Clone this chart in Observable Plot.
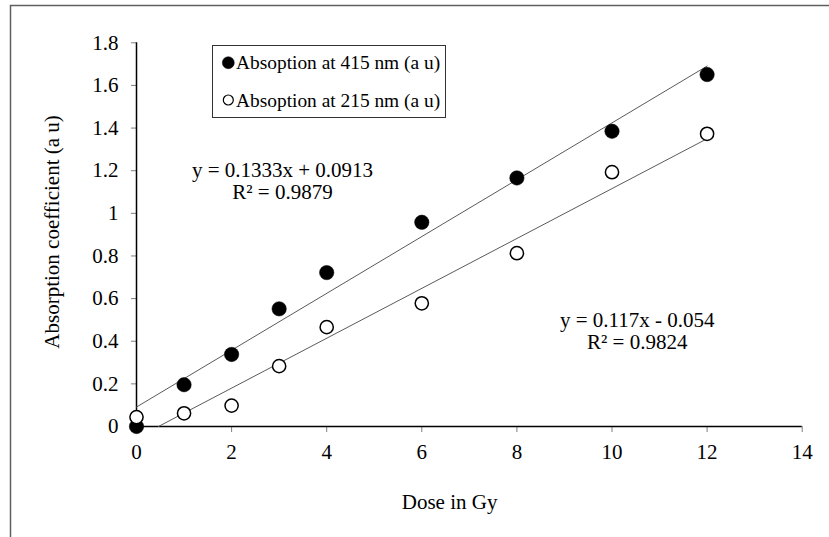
<!DOCTYPE html>
<html>
<head>
<meta charset="utf-8">
<script src="https://cdn.jsdelivr.net/npm/d3@7"></script>
<script src="https://cdn.jsdelivr.net/npm/@observablehq/plot@0.6"></script>
<style>
  html, body { margin: 0; padding: 0; background: white; overflow: hidden; }
  #chart { width: 829px; height: 537px; }
</style>
</head>
<body>
<div id="chart"></div>
<script>
// ---- data ----
const doses = [0, 1, 2, 3, 4, 6, 8, 10, 12];
const abs415 = [0, 0.196, 0.338, 0.552, 0.722, 0.958, 1.166, 1.385, 1.651];
const abs215 = [0.044, 0.062, 0.098, 0.283, 0.466, 0.578, 0.813, 1.193, 1.373];

const seriesNames = ["Absoption at 415 nm (a u)", "Absoption at 215 nm (a u)"];
const slopes = [0.1333, 0.117];
const intercepts = [0.0913, -0.054];
const trendStart = [0, 0.054 / 0.117];   // 215 nm trendline starts where it meets y = 0
const trendEnd = [12, 12];

const eqLabels = ["y = 0.1333x + 0.0913\nR² = 0.9879", "y = 0.117x - 0.054\nR² = 0.9824"];
const eqX = [3.07, 10.53];
const eqY = [1.153, 0.448];

const xTicks = [0, 2, 4, 6, 8, 10, 12, 14];
const yTicks = [0, 0.2, 0.4, 0.6, 0.8, 1, 1.2, 1.4, 1.6, 1.8];
const xTitle = "Dose in Gy";
const yTitle = "Absorption coefficient (a u)";

// ---- tables ----
const pts415 = doses.map((d, i) => ({x: d, y: abs415[i]}));
const pts215 = doses.map((d, i) => ({x: d, y: abs215[i]}));
const trends = [0, 1].map(k => [trendStart[k], trendEnd[k]].map(x => ({x, y: slopes[k] * x + intercepts[k], k})));
const eqs = eqLabels.map((t, i) => ({t, x: eqX[i], y: eqY[i]}));

const FONT = "Liberation Serif, Times New Roman, serif";

const chart = Plot.plot({
  width: 829,
  height: 537,
  marginLeft: 136,
  marginRight: 27.3,
  marginTop: 42.3,
  marginBottom: 111,
  style: {fontFamily: FONT, fontSize: "21px", background: "white", color: "black", overflow: "hidden"},
  x: {domain: [0, 14], ticks: xTicks, tickSize: 6, tickPadding: 12, tickFormat: d => String(d), label: null},
  y: {domain: [0, 1.8], ticks: yTicks, tickSize: 5, tickPadding: 13, tickFormat: d => String(d), label: null},
  marks: [
    Plot.ruleY([0], {stroke: "black", strokeWidth: 1.5}),
    Plot.ruleX([0], {stroke: "black", strokeWidth: 1.5}),
    Plot.line(trends[0], {x: "x", y: "y", stroke: "#5a5a5a", strokeWidth: 1}),
    Plot.line(trends[1], {x: "x", y: "y", stroke: "#5a5a5a", strokeWidth: 1}),
    Plot.dot(pts415, {x: "x", y: "y", r: 7.2, fill: "black", stroke: "black", strokeWidth: 0.5}),
    Plot.dot(pts215, {x: "x", y: "y", r: 6.6, fill: "white", stroke: "black", strokeWidth: 1.5}),
    Plot.text(eqs, {x: "x", y: "y", text: "t", fontSize: 21, lineHeight: 1.05, textAnchor: "middle", lineAnchor: "middle", fill: "black"}),
    Plot.text([xTitle], {frameAnchor: "bottom", dx: -19.8, dy: 75.3, fontSize: 21, textAnchor: "middle", lineAnchor: "middle", fill: "black"}),
    Plot.text([yTitle], {frameAnchor: "left", dx: -84, dy: -2.7, rotate: -90, fontSize: 21, textAnchor: "middle", lineAnchor: "middle", fill: "black"})
  ]
});

document.getElementById("chart").appendChild(chart);

// grey tick marks
d3.select(chart).selectAll('[aria-label="x-axis tick"] path, [aria-label="y-axis tick"] path, [aria-label="x-axis"] line, [aria-label="y-axis"] line')
  .attr("stroke", "#7f7f7f");

const svg = d3.select(chart);

// outer chart-area border
svg.append("rect")
  .attr("x", 10.5).attr("y", 5.5)
  .attr("width", 840).attr("height", 560)
  .attr("fill", "none").attr("stroke", "#5f5f5f").attr("stroke-width", 1.5);

// legend
const lg = svg.append("g").attr("font-family", FONT).attr("font-size", 19.4).attr("text-anchor", "start");
lg.append("rect")
  .attr("x", 212.5).attr("y", 45.5).attr("width", 233).attr("height", 72)
  .attr("fill", "white").attr("stroke", "#333").attr("stroke-width", 1);
const legRows = [
  {name: seriesNames[0], cy: 62.7, r: 6, fill: "black", sw: 0.5},
  {name: seriesNames[1], cy: 100, r: 5, fill: "white", sw: 1.2}
];
legRows.forEach(row => {
  lg.append("circle").attr("cx", 228.3).attr("cy", row.cy).attr("r", row.r)
    .attr("fill", row.fill).attr("stroke", "black").attr("stroke-width", row.sw);
  lg.append("text").attr("x", 236).attr("y", row.cy + 6.5).attr("fill", "black")
    .attr("text-anchor", "start").text(row.name);
});
</script>
</body>
</html>
